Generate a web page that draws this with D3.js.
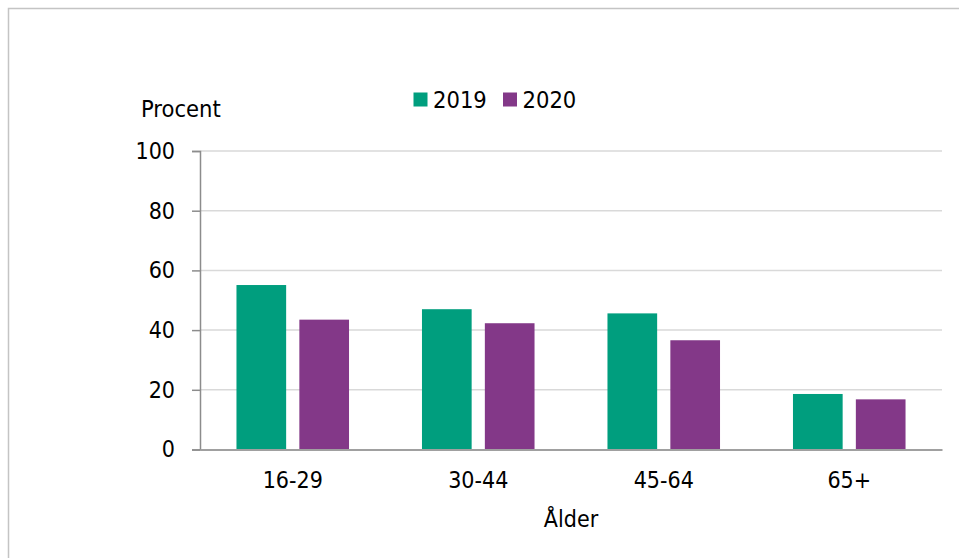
<!DOCTYPE html>
<html>
<head>
<meta charset="utf-8">
<script src="https://cdn.jsdelivr.net/npm/d3@7"></script>
<style>
  html, body { margin: 0; padding: 0; background: #fff; }
  svg { display: block; }
  text { font-family: "DejaVu Sans Condensed", "DejaVu Sans", sans-serif; fill: #000; }
</style>
</head>
<body>
<svg id="chart" width="959" height="558"></svg>
<script>
const categories = ["16-29", "30-44", "45-64", "65+"];
const seriesNames = ["2019", "2020"];
const values2019 = [55.1, 47.0, 45.6, 18.6];
const values2020 = [43.5, 42.3, 36.6, 16.8];
const yTicks = [0, 20, 40, 60, 80, 100];
const colors = ["#009e7e", "#833888"];

const seriesValues = [values2019, values2020];
const svg = d3.select("#chart");

// outer frame
svg.append("path")
  .attr("d", "M8.5,560 V8.5 H962")
  .attr("fill", "none").attr("stroke", "#c4c4c4").attr("stroke-width", 1.5);

const plotLeft = 200, plotRight = 942, plotTop = 151, plotBottom = 449.5;

const y = d3.scaleLinear().domain([0, 100]).range([plotBottom, plotTop]);
const x0 = d3.scaleBand().domain(categories).range([plotLeft, plotRight]).padding(0);
const x1 = d3.scaleBand().domain(seriesNames).range([0, x0.bandwidth()])
  .paddingInner(0.21).paddingOuter(0.58);

// gridlines
svg.append("g").selectAll("line").data(yTicks.filter(d => d > 0)).join("line")
  .attr("x1", plotLeft).attr("x2", plotRight)
  .attr("y1", d => y(d)).attr("y2", d => y(d))
  .attr("stroke", "#d9d9d9").attr("stroke-width", 1.5);

// y axis
const yAxis = svg.append("g").attr("transform", `translate(${plotLeft},0)`)
  .call(d3.axisLeft(y).tickValues(yTicks).tickSize(8).tickPadding(17));
yAxis.select(".domain").attr("stroke", "#8c8c8c").attr("stroke-width", 1.5);
yAxis.selectAll(".tick line").attr("stroke", "#8c8c8c").attr("stroke-width", 1.5);
yAxis.selectAll(".tick text").attr("font-size", 23)
  .attr("font-family", "DejaVu Sans Condensed, DejaVu Sans, sans-serif").attr("fill", "#000");

// bars
const groups = svg.append("g").selectAll("g").data(categories).join("g")
  .attr("transform", d => `translate(${x0(d)},0)`);
groups.selectAll("rect")
  .data((c, i) => seriesNames.map((s, j) => ({ s, j, v: seriesValues[j][i] })))
  .join("rect")
  .attr("x", d => x1(d.s))
  .attr("width", x1.bandwidth())
  .attr("y", d => y(d.v))
  .attr("height", d => y(0) - y(d.v))
  .attr("fill", d => colors[d.j]);

// x axis
const xAxis = svg.append("g").attr("transform", `translate(0,${plotBottom})`)
  .call(d3.axisBottom(x0).tickSize(0).tickPadding(22));
xAxis.select(".domain").attr("stroke", "#a0a0a0").attr("stroke-width", 2);
xAxis.selectAll(".tick text").attr("font-size", 23)
  .attr("font-family", "DejaVu Sans Condensed, DejaVu Sans, sans-serif").attr("fill", "#000");

// axis titles
svg.append("text").attr("x", 141).attr("y", 116.5).attr("font-size", 23.5).text("Procent");
svg.append("text").attr("x", (plotLeft + plotRight) / 2).attr("y", 527)
  .attr("text-anchor", "middle").attr("font-size", 23).text("Ålder");

// legend
const legendX = [413.5, 503];
const leg = svg.append("g").selectAll("g").data(seriesNames).join("g")
  .attr("transform", (d, i) => `translate(${legendX[i]},92.5)`);
leg.append("rect").attr("width", 14).attr("height", 14).attr("fill", (d, i) => colors[i]);
leg.append("text").attr("x", 19.5).attr("y", 15.5).attr("font-size", 23.5).text(d => d);
</script>
</body>
</html>
